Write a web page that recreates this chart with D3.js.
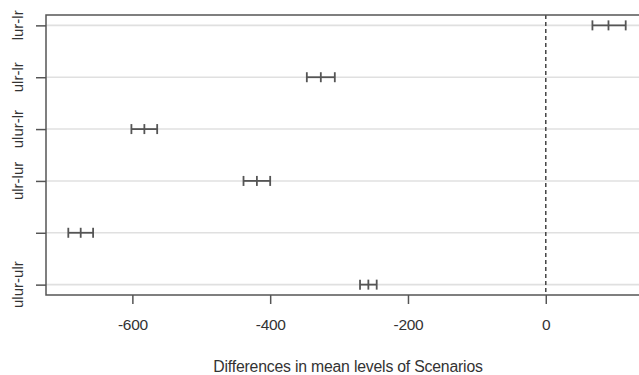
<!DOCTYPE html>
<html>
<head>
<meta charset="utf-8">
<script src="https://cdn.jsdelivr.net/npm/d3@7"></script>
<style>
  body { margin: 0; background: #fff; }
  svg { display: block; font-family: "Liberation Sans", Arial, sans-serif; }
</style>
</head>
<body>
<svg id="chart" width="639" height="375"></svg>
<script>
// Tukey HSD comparisons, top to bottom
const comparisons = ["lur-lr", "ulr-lr", "ulur-lr", "ulr-lur", "ulur-lur", "ulur-ulr"];
const shownLabels = ["lur-lr", "ulr-lr", "ulur-lr", "ulr-lur", "", "ulur-ulr"];
const diffValues = [91, -326.5, -582.6, -419.3, -675, -257.5];
const lowerValues = [67.7, -346.8, -601.4, -438.7, -693, -269.6];
const upperValues = [116, -306.2, -564, -400, -657, -245.4];
const xTicks = [-600, -400, -200, 0];

const svg = d3.select("#chart");
const margin = { top: 15, bottom: 295, left: 46, right: 648 };

// R-style 4% padding on data range
const lo = d3.min(lowerValues), hi = d3.max(upperValues);
const pad = (hi - lo) * 0.04;
const x = d3.scaleLinear().domain([lo - pad, hi + pad]).range([margin.left, margin.right]);
const y = d3.scaleLinear().domain([0.8, 6.2]).range([margin.top, margin.bottom]);

const axisColor = "#555";

// grid lines
svg.append("g")
  .selectAll("line")
  .data(comparisons)
  .join("line")
  .attr("x1", margin.left).attr("x2", margin.right)
  .attr("y1", (d, i) => y(i + 1)).attr("y2", (d, i) => y(i + 1))
  .attr("stroke", "#e0e0e0")
  .attr("stroke-width", 1.6);

// zero line
svg.append("line")
  .attr("x1", x(0)).attr("x2", x(0))
  .attr("y1", margin.top).attr("y2", margin.bottom)
  .attr("stroke", "#444")
  .attr("stroke-width", 1.5)
  .attr("stroke-dasharray", "4,3");

// box
svg.append("rect")
  .attr("x", margin.left).attr("y", margin.top)
  .attr("width", margin.right - margin.left)
  .attr("height", margin.bottom - margin.top)
  .attr("fill", "none")
  .attr("stroke", axisColor)
  .attr("stroke-width", 1.5);

// x axis
const xAxis = svg.append("g")
  .attr("transform", `translate(0,${margin.bottom})`)
  .call(d3.axisBottom(x).tickValues(xTicks).tickSize(9).tickPadding(15).tickFormat(d3.format("d")));
xAxis.select(".domain").remove();
xAxis.selectAll("line").attr("stroke", axisColor).attr("stroke-width", 1.5);
xAxis.selectAll("text").attr("font-size", 15.5).attr("fill", "#333")
  .attr("font-family", "Liberation Sans, Arial, sans-serif")
  .attr("letter-spacing", -0.3)
  .text(d => d < 0 ? "-" + Math.abs(d) : d);

// y axis
const yAxis = svg.append("g")
  .attr("transform", `translate(${margin.left},0)`)
  .call(d3.axisLeft(y).tickValues(d3.range(1, comparisons.length + 1)).tickSize(10).tickFormat(""));
yAxis.select(".domain").remove();
yAxis.selectAll("line").attr("stroke", axisColor).attr("stroke-width", 1.5);

svg.append("g")
  .selectAll("text")
  .data(shownLabels)
  .join("text")
  .attr("transform", (d, i) => `translate(23,${y(i + 1)}) rotate(-90)`)
  .attr("text-anchor", "middle")
  .attr("font-size", 15)
  .attr("fill", "#333")
  .text(d => d);

// intervals
const cap = 5;
const ints = svg.append("g").attr("stroke", axisColor).attr("stroke-width", 1.8);
comparisons.forEach((c, i) => {
  const yy = y(i + 1);
  ints.append("line").attr("x1", x(lowerValues[i])).attr("x2", x(upperValues[i]))
    .attr("y1", yy).attr("y2", yy);
  [lowerValues[i], diffValues[i], upperValues[i]].forEach(v => {
    ints.append("line").attr("x1", x(v)).attr("x2", x(v))
      .attr("y1", yy - cap).attr("y2", yy + cap);
  });
});

// axis title
svg.append("text")
  .attr("x", 348).attr("y", 372)
  .attr("text-anchor", "middle")
  .attr("font-size", 15.8)
  .attr("letter-spacing", -0.2)
  .attr("fill", "#333")
  .text("Differences in mean levels of Scenarios");
</script>
</body>
</html>
